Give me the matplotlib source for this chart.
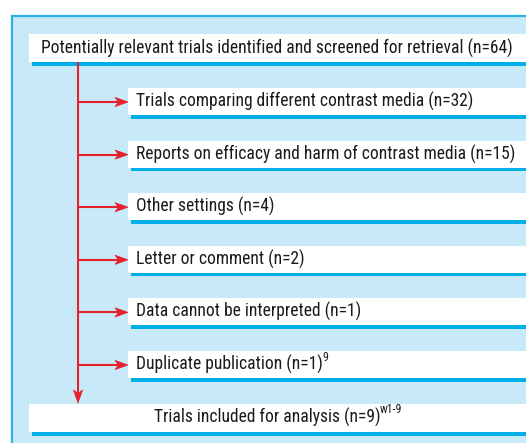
import matplotlib
matplotlib.use("Agg")
import matplotlib.pyplot as plt
from matplotlib.patches import Rectangle, Polygon
from matplotlib import font_manager

# ---- data ----
top_label = "Potentially relevant trials identified and screened for retrieval"
top_n = 64
excluded_labels = [
    "Trials comparing different contrast media",
    "Reports on efficacy and harm of contrast media",
    "Other settings",
    "Letter or comment",
    "Data cannot be interpreted",
    "Duplicate publication",
]
excluded_n = [32, 15, 4, 2, 1, 1]
excluded_refs = ["", "", "", "", "", "9"]
final_label = "Trials included for analysis"
final_n = 9
final_ref = "w1-9"

# ---- style ----
names = {f.name for f in font_manager.fontManager.ttflist}
FONT = next((f for f in ["Roboto Condensed", "Archivo Narrow", "PT Sans Narrow", "DejaVu Sans"] if f in names))
PANEL = "#c8e9f8"
BORDER = "#2ab4e6"
SHADOW = "#00aee8"
RED = "#e6202c"
TEXTC = "#1a1a1a"

W, H = 526, 443
fig = plt.figure(figsize=(W / 100, H / 100), dpi=100)
ax = fig.add_axes([0, 0, 1, 1])
ax.set_xlim(0, W)
ax.set_ylim(H, 0)
ax.axis("off")
renderer = fig.canvas.get_renderer()


def text_width(s, fs):
    t = ax.text(0, 0, s, fontsize=fs, family=FONT)
    w = t.get_window_extent(renderer).width
    t.remove()
    return w


# fit font size so the top label spans the measured width of the reference
FS = 12 * 472 / text_width(f"{top_label} (n={top_n})", 12)
SFS = FS * 0.68

# outer panel
ax.add_patch(Rectangle((12, 16), 600, 600, facecolor=PANEL, edgecolor=BORDER, lw=1.6, zorder=0))


def box(x0, y0, x1, y1):
    ax.add_patch(Rectangle((x0 + 3, y1 - 1), x1 - x0, 4.5, facecolor=SHADOW, edgecolor="none", zorder=1))
    ax.add_patch(Rectangle((x0, y0), x1 - x0, y1 - y0, facecolor="white", edgecolor="none", zorder=2))


def label(x, y, text, ref):
    t = ax.text(x, y, text, ha="left", va="center", fontsize=FS, family=FONT, color=TEXTC, zorder=3)
    if ref:
        ax.annotate(ref, xy=(1, 0.55), xycoords=t, xytext=(-0.6, 0), textcoords="offset points",
                    ha="left", va="bottom", fontsize=SFS, family=FONT, color=TEXTC, zorder=3)
    return t


def head(tip_x, tip_y, direction):
    L, Wd, N = 13.0, 4.6, 9.5
    if direction == "right":
        pts = [(tip_x, tip_y), (tip_x - L, tip_y - Wd), (tip_x - N, tip_y), (tip_x - L, tip_y + Wd)]
    else:  # down
        pts = [(tip_x, tip_y), (tip_x - Wd, tip_y - L), (tip_x, tip_y - N), (tip_x + Wd, tip_y - L)]
    ax.add_patch(Polygon(pts, closed=True, facecolor=RED, edgecolor=RED, lw=0.5, zorder=4))


# top box
box(29, 34, 540, 62)
label(41, 48, f"{top_label} (n={top_n})", "")

# trunk
trunk_x = 78
branch_y0 = 102
branch_dy = 52.6
ys = [branch_y0 + i * branch_dy for i in range(len(excluded_labels))]

ax.plot([trunk_x, trunk_x], [62, 394], color=RED, lw=1.5, zorder=3, solid_capstyle="butt")
head(trunk_x, 403, "down")

for y, lab, n, ref in zip(ys, excluded_labels, excluded_n, excluded_refs):
    box(128, y - 14, 540, y + 13)
    ax.plot([trunk_x, 120], [y, y], color=RED, lw=1.5, zorder=3, solid_capstyle="butt")
    head(128, y, "right")
    label(136, y - 0.5, f"{lab} (n={n})", ref)

# final box: whole label incl. superscript centred in the box
box(29, 404, 540, 432)
final_text = f"{final_label} (n={final_n})"
total_w = text_width(final_text, FS) + text_width(final_ref, SFS)
label(277 - total_w / 2 + 1, 417, final_text, final_ref)

fig.savefig("out.png", dpi=100)
